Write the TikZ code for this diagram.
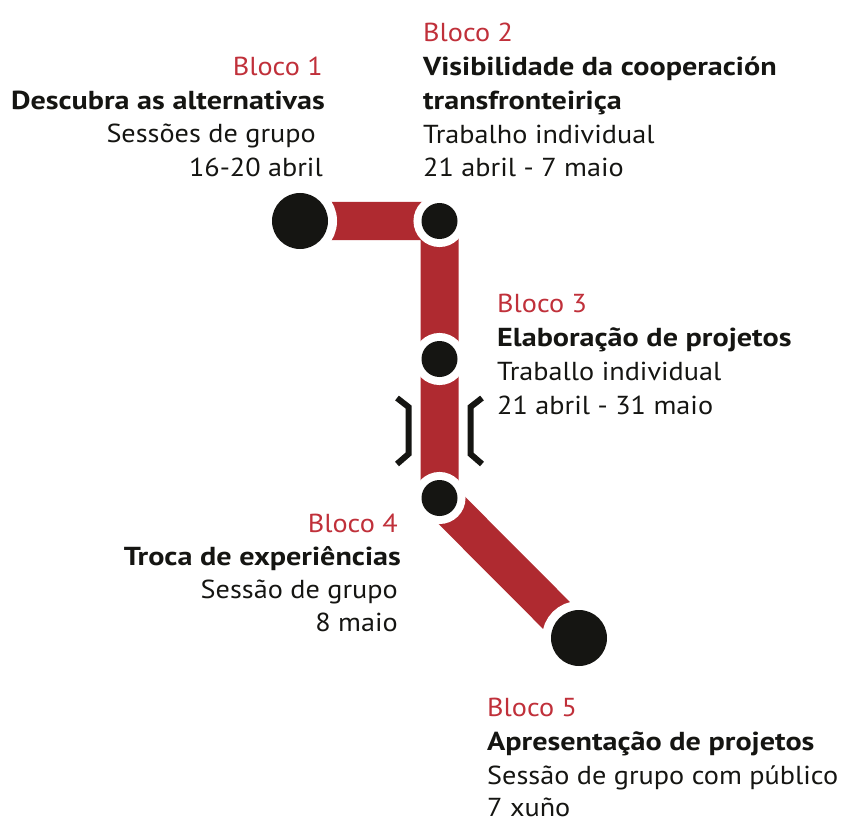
\documentclass[tikz,border=0pt]{standalone}
\usepackage{fontspec}
\setmainfont{PT Sans}[FakeStretch=1.085,BoldFeatures={FakeStretch=1.16}]
\definecolor{barred}{HTML}{AF2A30}
\definecolor{labred}{HTML}{C0303A}
\definecolor{ink}{HTML}{151512}
\pgfdeclarelayer{bg}
\pgfsetlayers{bg,main}
\begin{document}
\begin{tikzpicture}[x=1pt,y=-1pt,
  stop/.style={circle,fill=ink,inner sep=0pt,minimum size=36pt,preaction={draw=white,line width=16pt}},
  bigstop/.style={circle,fill=ink,inner sep=0pt,minimum size=56pt,preaction={draw=white,line width=18pt}},
  bar/.style={draw=barred,line width=38pt,line cap=butt,line join=round},
  bracket/.style={draw=ink,line width=6pt,line join=miter},
  txt/.style={inner sep=0pt,font=\fontsize{26}{30}\selectfont,text=ink},
  blk/.style={txt,text=labred},
  ttl/.style={txt,font=\fontsize{26}{30}\selectfont\bfseries}]
\useasboundingbox (0,0) rectangle (843,821);
% stops
\node[bigstop] (n1) at (300,221) {};
\node[stop] (n2) at (439.5,221) {};
\node[stop] (n3) at (439.5,359) {};
\node[stop] (n4) at (439.5,498) {};
\node[bigstop] (n5) at (579,638) {};
\begin{pgfonlayer}{bg}
\draw[bar] (n1.center) -- (n2.center) -- (n3.center) -- (n4.center) -- (n5.center);
\end{pgfonlayer}
% brackets
\draw[bracket] (397,398) -- (408.5,407) -- (408.5,454) -- (397,464);
\draw[bracket] (482,398) -- (470.5,407) -- (470.5,454) -- (482,464);
% Bloco 1
\node[blk,anchor=base east] (b1a) at (323,76) {Bloco 1};
\node[ttl,anchor=base east] (b1b) at (325,110) {Descubra as alternativas};
\node[txt,anchor=base east] (b1c) at (316,143) {Sessões de grupo};
\node[txt,anchor=base east] (b1d) at (323,177) {16-20 abril};
% Bloco 2
\node[blk,anchor=base west] (b2a) at (423,42) {Bloco 2};
\node[ttl,anchor=base west] (b2b) at (423,76) {Visibilidade da cooperación};
\node[ttl,anchor=base west] (b2c) at (423,110) {transfronteiriça};
\node[txt,anchor=base west] (b2d) at (423,144) {Trabalho individual};
\node[txt,anchor=base west] (b2e) at (423,177) {21 abril - 7 maio};
% Bloco 3
\node[blk,anchor=base west] (b3a) at (497,312) {Bloco 3};
\node[ttl,anchor=base west] (b3b) at (497,346) {Elaboração de projetos};
\node[txt,anchor=base west] (b3c) at (497,380) {Traballo individual};
\node[txt,anchor=base west] (b3d) at (497,414) {21 abril - 31 maio};
% Bloco 4
\node[blk,anchor=base east] (b4a) at (398,532) {Bloco 4};
\node[ttl,anchor=base east] (b4b) at (401,565) {Troca de experiências};
\node[txt,anchor=base east] (b4c) at (398,598) {Sessão de grupo};
\node[txt,anchor=base east] (b4d) at (398,631) {8 maio};
% Bloco 5
\node[blk,anchor=base west] (b5a) at (487,716) {Bloco 5};
\node[ttl,anchor=base west] (b5b) at (487,750) {Apresentação de projetos};
\node[txt,anchor=base west] (b5c) at (487,784) {Sessão de grupo com público};
\node[txt,anchor=base west] (b5d) at (487,816) {7 xuño};
\end{tikzpicture}
\end{document}
